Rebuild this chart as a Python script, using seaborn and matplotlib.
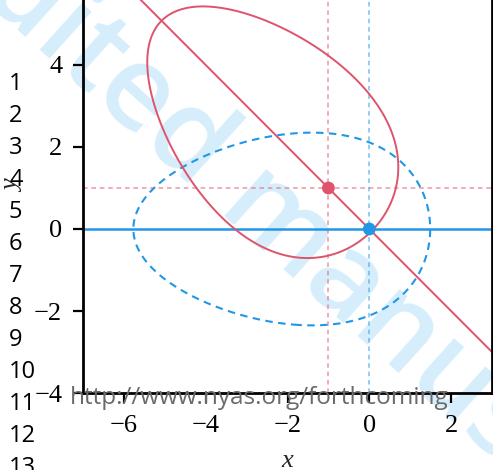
import numpy as np
import pandas as pd
import matplotlib
matplotlib.use("Agg")
import matplotlib.pyplot as plt
import seaborn as sns

# ---- data -------------------------------------------------------------
# reference points
point_x = [0.0, -1.0]
point_y = [0.0, 1.0]
point_group = ["base", "shifted"]

# level set of g(X, Y) = exp(k (X - x0)) - k (X - x0) - 1 + Y^2 / b
shape_x0 = -1.4
shape_rate = 0.355
shape_scale = 7.24
shape_level = 0.763
rotation_deg = -45.0          # shifted region: rotated copy around the base point

x_ticks = [-6, -4, -2, 0, 2]
y_ticks = [-4, -2, 0, 2, 4]
x_limits = [-7, 3]
y_limits = [-4, 6]

line_numbers = list(range(1, 14))
watermark = "Unedited manuscript"
url_text = "http://www.nyas.org/forthcoming"

RED = "#DF536B"
BLUE = "#2297E6"

sns.set_theme(style="white")
plt.rcParams["font.family"] = ["Liberation Serif", "DejaVu Serif"]

W, H = 493, 470
fig = plt.figure(figsize=(W / 100, H / 100), dpi=100)
fig.patch.set_facecolor("white")

# watermark behind everything
fig.text(0.55, 0.535, watermark, rotation=-42, rotation_mode="anchor",
         ha="center", va="center", fontsize=84, color="#D6EEFB",
         weight="semibold", family=["Open Sans", "DejaVu Sans"], zorder=-5)

ax_left, ax_right = 83 / W, 492 / W
ax_bottom = (H - 393) / H
ax_height = 410 / H
ax = fig.add_axes([ax_left, ax_bottom, ax_right - ax_left, ax_height])
ax.set_facecolor("none")
ax.set_xlim(*x_limits)
ax.set_ylim(*y_limits)

# ---- regions ---------------------------------------------------------
gx = np.linspace(-8, 4, 700)
gy = np.linspace(-5, 7, 700)
GX, GY = np.meshgrid(gx, gy)

def g(X, Y):
    u = shape_rate * (X - shape_x0)
    return np.exp(u) - u - 1 + Y ** 2 / shape_scale

# base region, centred on the base point
Z_base = g(GX - point_x[0], GY - point_y[0])
ax.contour(GX, GY, Z_base, levels=[shape_level], colors=BLUE,
           linewidths=1.5, linestyles=[(0, (3.6, 2.6))], zorder=3)

# shifted region: inverse-rotate coordinates around the shifted point
th = np.deg2rad(rotation_deg)
dx, dy = GX - point_x[1], GY - point_y[1]
Xr = np.cos(th) * dx + np.sin(th) * dy
Yr = -np.sin(th) * dx + np.cos(th) * dy
Z_shift = g(Xr, Yr)
ax.contour(GX, GY, Z_shift, levels=[shape_level], colors=RED,
           linewidths=1.4, zorder=3)

# ---- guide lines -----------------------------------------------------
ax.axhline(point_y[0], color=BLUE, lw=1.8, zorder=2)
ax.axline((point_x[0], point_y[0]), slope=np.tan(th), color=RED, lw=1.4, zorder=2)
ax.axvline(point_x[0], color=BLUE, lw=1.1, ls=(0, (3, 2.5)), alpha=0.6, zorder=1)
ax.axvline(point_x[1], color=RED, lw=1.1, ls=(0, (3, 2.5)), alpha=0.6, zorder=1)
ax.axhline(point_y[1], color=RED, lw=1.1, ls=(0, (3, 2.5)), alpha=0.6, zorder=1)

pts = pd.DataFrame({"x": point_x, "y": point_y, "group": point_group})
sns.scatterplot(data=pts, x="x", y="y", hue="group",
                palette={"base": BLUE, "shifted": RED}, s=85,
                edgecolor="none", legend=False, ax=ax, zorder=4, clip_on=False)

# ---- axes styling ----------------------------------------------------
ax.set_xticks(x_ticks)
ax.set_yticks(y_ticks)
ax.set_xticklabels([f"{t}".replace("-", "\u2212") for t in x_ticks])
ax.set_yticklabels([f"{t}".replace("-", "\u2212") for t in y_ticks])
ax.tick_params(axis="both", direction="out", length=7, width=1.6,
               color="black", labelsize=19, labelcolor="black",
               bottom=True, left=True, right=False, top=False)
ax.tick_params(axis="x", pad=9)
ax.tick_params(axis="y", pad=8)
for side in ["left", "bottom", "right"]:
    ax.spines[side].set_visible(True)
    ax.spines[side].set_color("black")
    ax.spines[side].set_linewidth(2.0)
ax.spines["top"].set_visible(False)
ax.grid(False)

ax.set_xlabel("")
ax.set_ylabel("")
fig.text(287 / W, 1 - 461 / H, "x", fontsize=19, style="italic",
         ha="center", va="center")
fig.text(13 / W, 1 - 186 / H, "y", rotation=90, fontsize=19, style="italic",
         ha="center", va="center")

# ---- page furniture --------------------------------------------------
for i, n in enumerate(line_numbers):
    fig.text(9 / W, 1 - (84 + 32.0 * i) / H, str(n), ha="left", va="center",
             fontsize=17, family=["Open Sans", "DejaVu Sans"], color="black")

fig.text(70 / W, 1 - 404 / H, url_text, ha="left", va="baseline",
         fontsize=17.5, color="#6A6A6A", family=["Open Sans", "DejaVu Sans"],
         zorder=10)

fig.savefig("out.png", dpi=100, facecolor="white")
